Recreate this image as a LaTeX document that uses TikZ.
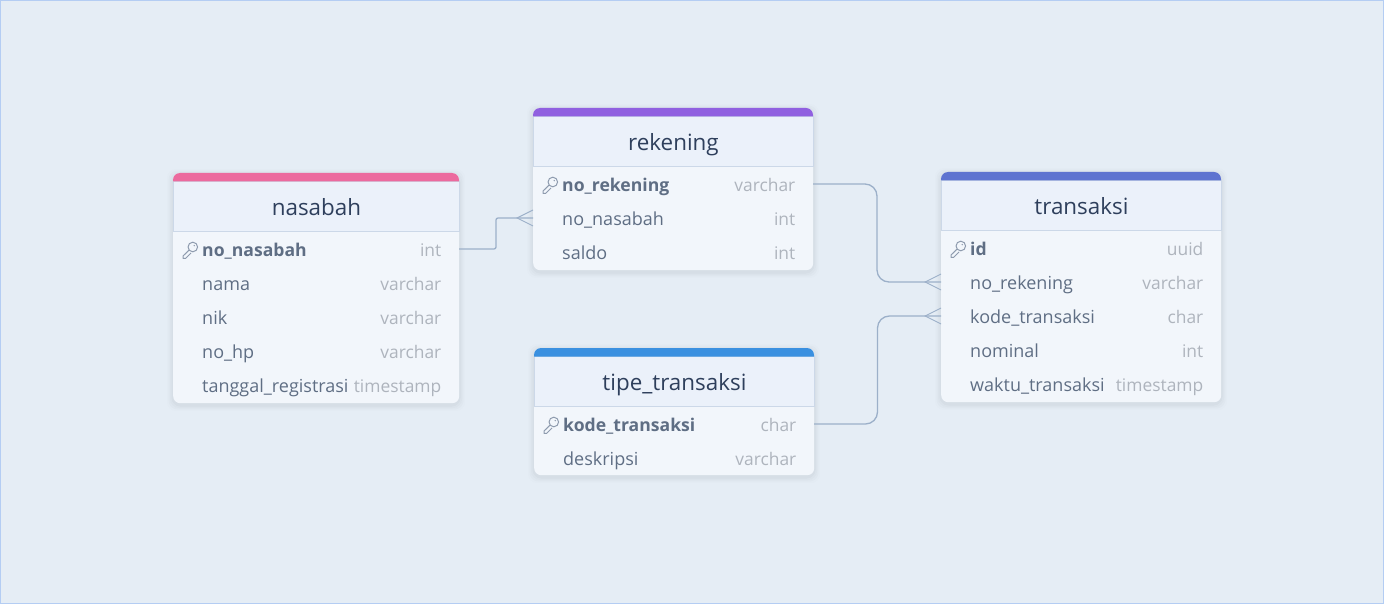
\documentclass[tikz,border=0pt]{standalone}
\usepackage{fontspec}
\setmainfont{Open Sans}
\usetikzlibrary{calc}
\definecolor{canvasbg}{HTML}{E5EDF5}
\definecolor{canvasline}{HTML}{B4CDF3}
\definecolor{headbg}{HTML}{EBF1FA}
\definecolor{headline}{HTML}{CCD8E8}
\definecolor{rowbg}{HTML}{F2F6FB}
\definecolor{titletext}{HTML}{2E3F5C}
\definecolor{fieldtext}{HTML}{5F6E84}
\definecolor{typetext}{HTML}{AEB4BD}
\definecolor{linkline}{HTML}{9CB0C9}
\definecolor{keyline}{HTML}{8E9BAE}
\definecolor{barpink}{HTML}{EC6A9E}
\definecolor{barpurple}{HTML}{9060E0}
\definecolor{barindigo}{HTML}{5E73D0}
\definecolor{barblue}{HTML}{3A90E0}
\tikzset{%
  cardbox/.style={%
    anchor=north west,
    fill=rowbg,
    rounded corners=7pt,
    inner sep=0pt
  },
  headbox/.style={%
    anchor=north west,
    fill=headbg,
    draw=headline,
    line width=0.9pt,
    inner sep=0pt,
    text=titletext,
    font=\fontsize{22.4}{26}\selectfont,
    text height=17.6pt,
    text depth=0pt
  },
  fieldlabel/.style={%
    anchor=base west,
    inner sep=0pt,
    text=fieldtext,
    font=\fontsize{18}{20}\selectfont
  },
  typelabel/.style={%
    anchor=base east,
    inner sep=0pt,
    text=typetext,
    font=\fontsize{17.4}{20}\selectfont
  },
  link/.style={%
    draw=linkline,
    line width=1.3pt
  },
  crowfoot/.style={%
    draw=linkline,
    line width=0.9pt
  },
  keyicon/.style={%
    draw=keyline,
    line width=1pt,
    line join=round
  }
}
% one table: name, left, top, width, bottom, colour, title, rows
\newcommand{\erdtable}[8]{%
  \foreach \spread/\alpha in {6/0.012,4.5/0.018,3/0.024,1.5/0.03} {
    \fill [black!60!linkline, opacity=\alpha, rounded corners=9pt]
      ($(#2,#3+2)+(-\spread,-\spread)$) rectangle ($(#2+#4,#5+2)+(\spread,\spread)$);
  }
  \pgfmathsetmacro{\cardh}{#5-#3}
  \node [cardbox, minimum width=#4 pt, minimum height=\cardh pt] (#1) at (#2,#3) {};
  \node [headbox, minimum width=#4 pt, minimum height=50pt] (#1-head) at (#2,#3+8) {#7};
  \fill [#6, rounded corners=7pt] (#2,#3+8.5) -- (#2,#3) -- (#2+#4,#3) -- (#2+#4,#3+8.5);
  \foreach \field/\kind [count=\i] in {#8} {
    \pgfmathsetmacro{\rowy}{#3+58+19+34*(\i-1)}
    \coordinate (#1-\i-l) at (#2,\rowy-1);
    \coordinate (#1-\i-r) at (#2+#4,\rowy-1);
    \ifnum\i=1
      \node [fieldlabel, font=\fontsize{17.6}{20}\selectfont\bfseries] (#1-\i-name) at (#2+29,\rowy+6.4) {\field};
      \begin{scope}[shift={(#2+17,\rowy)}]
        \draw [keyicon] (2.8,-3) circle (4.8);
        \draw [keyicon] (-0.8,0) -- (-7,6) -- (-7,8.4) -- (-4.4,8.4) -- (1,3);
        \fill [keyline] (4.2,-4.4) circle (0.8);
      \end{scope}
    \else
      \node [fieldlabel] (#1-\i-name) at (#2+29,\rowy+6.4) {\field};
    \fi
    \node [typelabel] (#1-\i-kind) at (#2+#4-17.5,\rowy+6.4) {\kind};
  }
}
\begin{document}
\begin{tikzpicture}[x=1pt,y=-1pt]
  \useasboundingbox (0,0) rectangle (1384,604);
  \draw [fill=canvasbg, draw=canvasline, line width=1pt] (0.5,0.5) rectangle (1383.5,603.5);
  \erdtable{nasabah}{173}{173}{286}{403}{barpink}{nasabah}{%
    no\_nasabah/int,nama/varchar,nik/varchar,no\_hp/varchar,tanggal\_registrasi/timestamp}
  \erdtable{rekening}{533}{108}{280}{270}{barpurple}{rekening}{%
    no\_rekening/varchar,no\_nasabah/int,saldo/int}
  \erdtable{tipe}{534}{348}{280}{475}{barblue}{tipe\_transaksi}{%
    kode\_transaksi/char,deskripsi/varchar}
  \erdtable{transaksi}{941}{172}{280}{402}{barindigo}{transaksi}{%
    id/uuid,no\_rekening/varchar,kode\_transaksi/char,nominal/int,waktu\_transaksi/timestamp}
  % links between the tables
  \draw [link, rounded corners=2pt] (nasabah-1-r) -| ($(nasabah-1-r)!0.5!(rekening-2-l)$) |- (rekening-2-l);
  \draw [link, rounded corners=12pt] (rekening-1-r) -| ($(rekening-1-r)!0.5!(transaksi-2-l)$) |- (transaksi-2-l);
  \draw [link, rounded corners=12pt] (tipe-1-r) -| ($(tipe-1-r)!0.5!(transaksi-3-l)$) |- (transaksi-3-l);
  \foreach \target in {rekening-2-l,transaksi-2-l,transaksi-3-l} {
    \draw [crowfoot] ($(\target)+(0,-8)$) -- ($(\target)+(-16,0)$) -- ($(\target)+(0,8)$);
  }
\end{tikzpicture}
\end{document}
